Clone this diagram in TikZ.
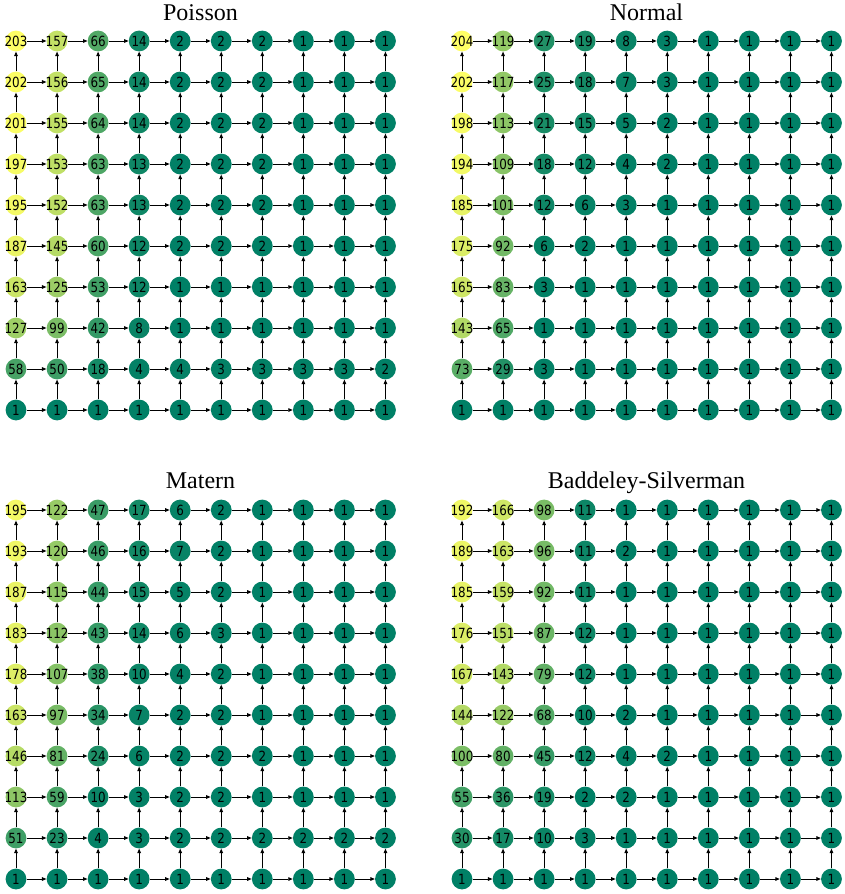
\documentclass[tikz,border=0pt]{standalone}
\usepackage{fontspec}
\setmainfont{Liberation Serif}
\newfontfamily\lblfont[FakeStretch=0.85]{DejaVu Sans}
\usetikzlibrary{arrows.meta}

\newcommand{\mygrid}[4]{%
  \foreach \row [count=\r from 0] in {#4} {
    \foreach \v [count=\c from 0] in \row {
      \pgfmathsetmacro{\cx}{(\v-1)/203}
      \pgfmathsetmacro{\cgr}{0.5+\cx/2}
      \definecolor{nc}{rgb}{\cx,\cgr,0.4}
      \node[cell, fill=nc] (#1-\r-\c) at ({#2+\c*41.05}, {#3+\r*41}) {\v};
    }
  }
  \foreach \r in {0,...,9} {
    \foreach \c [evaluate=\c as \cn using int(\c+1)] in {0,...,8} {
      \draw[link] (#1-\r-\c) -- (#1-\r-\cn);
    }
  }
  \foreach \r [evaluate=\r as \rn using int(\r+1)] in {0,...,8} {
    \foreach \c in {0,...,9} {
      \draw[link] (#1-\rn-\c) -- (#1-\r-\c);
    }
  }
}

\begin{document}
\begin{tikzpicture}[x=1pt,y=-1pt,
  cell/.style={circle, inner sep=-3pt, minimum size=20.8pt, font=\lblfont\fontsize{14}{14}\selectfont, text=black},
  link/.style={-{Triangle[length=4.5pt,width=3.6pt]}, line width=0.9pt, black},
  ttl/.style={font=\fontsize{24}{24}\selectfont, anchor=base, inner sep=0pt}]
\useasboundingbox (0,0) rectangle (844,894);

\node[ttl] (tp) at (200.5,20) {Poisson};
\node[ttl] (tn) at (646.5,20) {Normal};
\node[ttl] (tm) at (200.5,488) {Matern};
\node[ttl] (tb) at (646.5,488) {Baddeley-Silverman};

\mygrid{P}{16}{41}{
{203,157,66,14,2,2,2,1,1,1},
{202,156,65,14,2,2,2,1,1,1},
{201,155,64,14,2,2,2,1,1,1},
{197,153,63,13,2,2,2,1,1,1},
{195,152,63,13,2,2,2,1,1,1},
{187,145,60,12,2,2,2,1,1,1},
{163,125,53,12,1,1,1,1,1,1},
{127,99,42,8,1,1,1,1,1,1},
{58,50,18,4,4,3,3,3,3,2},
{1,1,1,1,1,1,1,1,1,1}}

\mygrid{N}{462}{41}{
{204,119,27,19,8,3,1,1,1,1},
{202,117,25,18,7,3,1,1,1,1},
{198,113,21,15,5,2,1,1,1,1},
{194,109,18,12,4,2,1,1,1,1},
{185,101,12,6,3,1,1,1,1,1},
{175,92,6,2,1,1,1,1,1,1},
{165,83,3,1,1,1,1,1,1,1},
{143,65,1,1,1,1,1,1,1,1},
{73,29,3,1,1,1,1,1,1,1},
{1,1,1,1,1,1,1,1,1,1}}

\mygrid{M}{16}{510}{
{195,122,47,17,6,2,1,1,1,1},
{193,120,46,16,7,2,1,1,1,1},
{187,115,44,15,5,2,1,1,1,1},
{183,112,43,14,6,3,1,1,1,1},
{178,107,38,10,4,2,1,1,1,1},
{163,97,34,7,2,2,1,1,1,1},
{146,81,24,6,2,2,2,1,1,1},
{113,59,10,3,2,2,1,1,1,1},
{51,23,4,3,2,2,2,2,2,2},
{1,1,1,1,1,1,1,1,1,1}}

\mygrid{B}{462}{510}{
{192,166,98,11,1,1,1,1,1,1},
{189,163,96,11,2,1,1,1,1,1},
{185,159,92,11,1,1,1,1,1,1},
{176,151,87,12,1,1,1,1,1,1},
{167,143,79,12,1,1,1,1,1,1},
{144,122,68,10,2,1,1,1,1,1},
{100,80,45,12,4,2,1,1,1,1},
{55,36,19,2,2,1,1,1,1,1},
{30,17,10,3,1,1,1,1,1,1},
{1,1,1,1,1,1,1,1,1,1}}
\end{tikzpicture}
\end{document}
